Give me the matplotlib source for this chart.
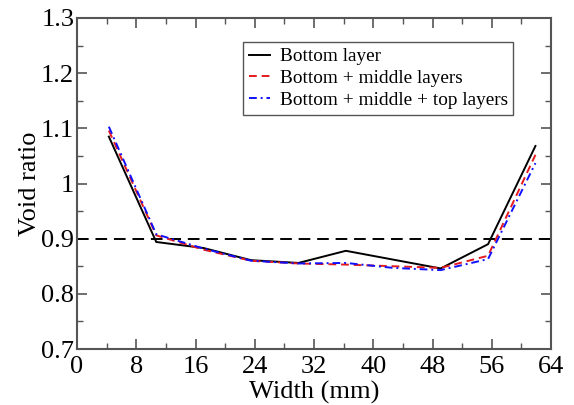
import numpy as np
import matplotlib
matplotlib.use("Agg")
import matplotlib.pyplot as plt
from matplotlib.ticker import MultipleLocator

# Datos
width_mm = [4.3, 10.7, 17.1, 23.5, 29.9, 36.3, 42.7, 49.1, 55.5, 61.9]
bottom = [1.085, 0.894, 0.883, 0.861, 0.856, 0.878, 0.862, 0.846, 0.890, 1.068]
bottom_middle = [1.096, 0.906, 0.880, 0.860, 0.855, 0.853, 0.850, 0.847, 0.869, 1.052]
bottom_middle_top = [1.103, 0.908, 0.882, 0.860, 0.855, 0.856, 0.847, 0.843, 0.863, 1.037]
ref_void = 0.9

plt.rcParams['font.family'] = ['Liberation Serif', 'DejaVu Serif']

fig = plt.figure(figsize=(5.74, 4.05), dpi=100)
ax = fig.add_axes([77/574, 1 - 349/405, 474/574, 331/405])

ax.axhline(ref_void, color='black', lw=1.4, dashes=(6, 3.5))
ax.plot(width_mm, bottom, color='black', lw=1.4, label='Bottom layer')
ax.plot(width_mm, bottom_middle, color='#e41a1c', lw=1.4, dashes=(4, 2.5),
        label='Bottom + middle layers')
ax.plot(width_mm, bottom_middle_top, color='#1010ff', lw=1.4,
        dashes=(4, 2, 1, 2), label='Bottom + middle + top layers')

ax.set_xlim(0, 64)
ax.set_ylim(0.7, 1.3)
ax.xaxis.set_major_locator(MultipleLocator(8))
ax.xaxis.set_minor_locator(MultipleLocator(4))
ax.yaxis.set_major_locator(MultipleLocator(0.1))
ax.yaxis.set_minor_locator(MultipleLocator(0.05))
ax.set_yticks([0.7, 0.8, 0.9, 1.0, 1.1, 1.2, 1.3])
ax.set_yticklabels(['0.7', '0.8', '0.9', '1', '1.1', '1.2', '1.3'])

ax.tick_params(which='both', direction='in', top=True, right=True,
               color='#555555', labelsize=19)
ax.tick_params(which='major', length=7, width=1.2)
ax.tick_params(which='minor', length=4, width=1.0)
ax.tick_params(axis='x', pad=5)
ax.tick_params(axis='y', pad=2)
for s in ax.spines.values():
    s.set_color('#555555')
    s.set_linewidth(1.5)

ax.set_xlabel('Width (mm)', fontsize=19, labelpad=2)
ax.set_ylabel('Void ratio', fontsize=19, labelpad=0)

leg = ax.legend(loc='upper left', bbox_to_anchor=(0.350, 0.9275),
                borderaxespad=0, fontsize=13.9, handlelength=1.1,
                handletextpad=0.5, borderpad=0.3, labelspacing=0.22,
                fancybox=False, framealpha=1)
leg.get_frame().set_edgecolor('#555555')
leg.get_frame().set_linewidth(1.0)

fig.savefig('out.png', dpi=100)
